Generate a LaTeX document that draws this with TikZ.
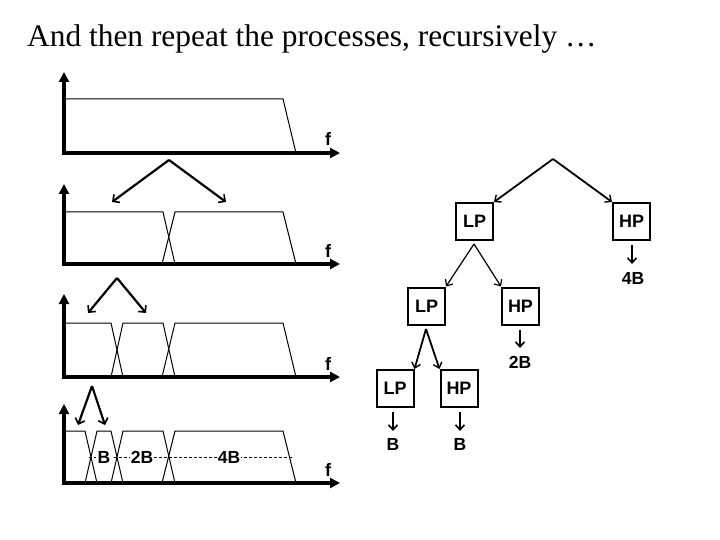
\documentclass[tikz,border=0pt]{standalone}
\usepackage{fontspec}
\setmainfont{Liberation Serif}
\newfontfamily\arialf{Liberation Sans}
\usetikzlibrary{arrows.meta}
\tikzset{
  x=1pt, y=-1pt,
  axis/.style={line width=3.5pt, -{Triangle[length=10pt,width=10pt]}},
  filt/.style={line width=1pt},
  splitarrow/.style={line width=2.2pt, -{Straight Barb[length=5pt,width=10pt,line width=1.6pt]}},
  treearrow/.style={line width=1.8pt, -{Straight Barb[length=5pt,width=9pt,line width=1.4pt]}},
  thinarrow/.style={line width=1.2pt, -{Straight Barb[length=5pt,width=9pt,line width=1.2pt]}},
  downarrow/.style={line width=1.8pt, -{Straight Barb[length=5pt,width=9pt,line width=1.6pt]}},
  box/.style={draw, line width=2pt, minimum width=37pt, minimum height=37pt, inner sep=0pt, font=\arialf\bfseries\fontsize{18}{18}\selectfont},
  lbl/.style={font=\arialf\bfseries\fontsize{17.5}{17.5}\selectfont, inner sep=0pt},
  flbl/.style={font=\arialf\bfseries\fontsize{18}{18}\selectfont, inner sep=0pt},
  bandlbl/.style={font=\arialf\bfseries\fontsize{17.5}{17.5}\selectfont, fill=white, inner sep=1.2pt},
}
\begin{document}
\begin{tikzpicture}
\useasboundingbox (0,0) rectangle (720,540);
% title
\node[anchor=base west, inner sep=0pt, font=\fontsize{31.4}{31.4}\selectfont] (title) at (27,47) {And then repeat the processes, recursively …};

% ---------- panel 1 ----------
\coordinate (y1) at (64,72);
\coordinate (x1) at (340,153);
\draw[filt] (64,99) -- (283,99) -- (296,153);
\draw[axis] (64,155) -- (y1);
\draw[axis] (62,153) -- (x1);
\node[flbl] (f1) at (328,139) {f};

% ---------- panel 2 ----------
\coordinate (y2) at (64,184);
\coordinate (x2) at (340,264);
\draw[filt] (64,212) -- (163,212) -- (175,264);
\draw[filt] (162,264) -- (175,212) -- (283,212) -- (296,264);
\draw[axis] (64,266) -- (y2);
\draw[axis] (62,264) -- (x2);
\node[flbl] (f2) at (328,251) {f};

% ---------- panel 3 ----------
\coordinate (y3) at (64,294);
\coordinate (x3) at (340,377);
\draw[filt] (64,323) -- (111,323) -- (123,377);
\draw[filt] (111,377) -- (123,323) -- (163,323) -- (175,377);
\draw[filt] (162,377) -- (175,323) -- (283,323) -- (296,377);
\draw[axis] (64,379) -- (y3);
\draw[axis] (62,377) -- (x3);
\node[flbl] (f3) at (328,364) {f};

% ---------- panel 4 ----------
\coordinate (y4) at (64,404);
\coordinate (x4) at (340,483);
\draw[filt] (64,431) -- (85,431) -- (97,483);
\draw[filt] (85,483) -- (97,431) -- (111,431) -- (123,483);
\draw[filt] (111,483) -- (123,431) -- (163,431) -- (175,483);
\draw[filt] (162,483) -- (175,431) -- (283,431) -- (296,483);
\draw[dashed, line width=0.6pt, dash pattern=on 3pt off 2pt] (89,457) -- (292,457);
\node[bandlbl] (bB) at (104,457) {B};
\node[bandlbl] (b2B) at (142,457) {2B};
\node[bandlbl] (b4B) at (229,457) {4B};
\draw[axis] (64,485) -- (y4);
\draw[axis] (62,483) -- (x4);
\node[flbl] (f4) at (328,470) {f};

% ---------- split arrows (left) ----------
\coordinate (s1) at (169,160);
\coordinate (s1l) at (112,202);
\coordinate (s1r) at (226,202);
\draw[splitarrow] (s1) -- (s1l);
\draw[splitarrow] (s1) -- (s1r);
\coordinate (s2) at (117,278);
\coordinate (s2l) at (88,313);
\coordinate (s2r) at (146,313);
\draw[splitarrow] (s2) -- (s2l);
\draw[splitarrow] (s2) -- (s2r);
\coordinate (s3) at (92,386);
\coordinate (s3l) at (78,425);
\coordinate (s3r) at (105,425);
\draw[splitarrow] (s3) -- (s3l);
\draw[splitarrow] (s3) -- (s3r);

% ---------- tree ----------
\coordinate (t0) at (553,159);
\node[box] (lp1) at (474.5,221.5) {LP};
\node[box] (hp1) at (631.5,221.5) {HP};
\draw[treearrow] (t0) -- (lp1.north east);
\draw[treearrow] (t0) -- (hp1.north west);
\node[lbl] (o4B) at (633,278) {4B};
\coordinate (h1s) at (632,245);
\coordinate (h1e) at (632,264);
\draw[downarrow] (h1s) -- (h1e);

\coordinate (t1) at (474,244);
\node[box] (lp2) at (426.5,306) {LP};
\node[box] (hp2) at (520.5,306) {HP};
\draw[thinarrow] (t1) -- (lp2.north east);
\draw[thinarrow] (t1) -- (hp2.north west);
\node[lbl] (o2B) at (520,362) {2B};
\coordinate (h2s) at (520,330);
\coordinate (h2e) at (520,348);
\draw[downarrow] (h2s) -- (h2e);

\coordinate (t2) at (426,329);
\node[box] (lp3) at (395,388.5) {LP};
\node[box] (hp3) at (459,388.5) {HP};
\draw[treearrow] (t2) -- (lp3.north east);
\draw[treearrow] (t2) -- (hp3.north west);
\node[lbl] (oB1) at (393,444) {B};
\node[lbl] (oB2) at (460,444) {B};
\coordinate (l3s) at (393,412);
\coordinate (h3s) at (460,412);
\coordinate (l3e) at (393,431);
\coordinate (h3e) at (460,431);
\draw[downarrow] (l3s) -- (l3e);
\draw[downarrow] (h3s) -- (h3e);
\end{tikzpicture}
\end{document}
